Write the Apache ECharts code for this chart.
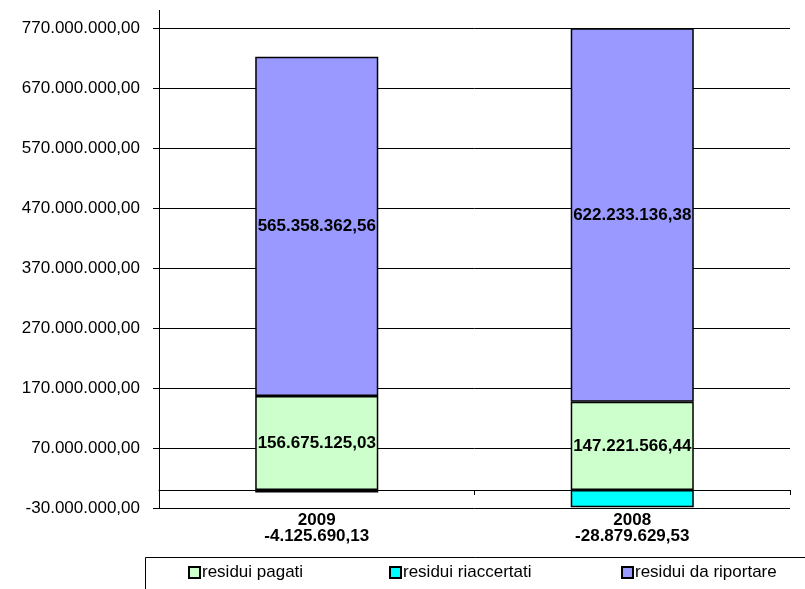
<!DOCTYPE html>
<html>
<head>
<meta charset="utf-8">
<script src="https://cdn.jsdelivr.net/npm/echarts@6/dist/echarts.min.js"></script>
<style>
  html, body { margin: 0; padding: 0; background: #fff; }
  #chart { width: 805px; height: 589px; }
</style>
</head>
<body>
<div id="chart"></div>
<script>
// data
const years = ['2009', '2008'];
const residuiPagati = [156675125.03, 147221566.44];
const residuiRiaccertati = [-4125690.13, -28879629.53];
const residuiDaRiportare = [565358362.56, 622233136.38];
const seriesNames = ['residui pagati', 'residui riaccertati', 'residui da riportare'];
const seriesColors = ['#CCFFCC', '#00FFFF', '#9999FF'];

// 1234567.5 -> "1.234.567,50"
function fmtIt(v) {
    const neg = v < 0;
    const parts = Math.abs(v).toFixed(2).split('.');
    const intPart = parts[0].replace(/\B(?=(\d{3})+(?!\d))/g, '.');
    return (neg ? '-' : '') + intPart + ',' + parts[1];
}

const categoryLabels = years.map((y, i) => y + '\n' + fmtIt(residuiRiaccertati[i]));

const font = 'Liberation Sans, Arial, sans-serif';

const chart = echarts.init(document.getElementById('chart'));

function barSeries(idx, data, showLabel) {
    return {
        name: seriesNames[idx],
        type: 'bar',
        stack: 'tot',
        barWidth: '39%',
        data: data,
        itemStyle: { color: seriesColors[idx], borderColor: '#000', borderWidth: 1.5 },
        label: {
            show: showLabel,
            position: 'inside',
            color: '#000',
            fontFamily: font,
            fontWeight: 'bold',
            fontSize: 17,
            formatter: p => fmtIt(p.value)
        },
        emphasis: { disabled: true }
    };
}

function legendItem(idx, left) {
    return {
        data: [seriesNames[idx]],
        left: left,
        top: 564,
        padding: 0,
        itemWidth: 11,
        itemHeight: 11,
        itemGap: 0,
        icon: 'rect',
        selectedMode: false,
        textStyle: { fontFamily: font, fontSize: 17, color: '#000', padding: [0, 0, 0, -3] }
    };
}

const option = {
    animation: false,
    backgroundColor: '#fff',
    grid: { left: 159, right: 15, top: 28, bottom: 81 },
    legend: [legendItem(0, 188), legendItem(1, 389), legendItem(2, 621)],
    xAxis: [
        {
            type: 'category',
            data: categoryLabels,
            position: 'bottom',
            axisLine: { show: false, onZero: false },
            axisTick: { show: false },
            axisLabel: {
                margin: 4,
                color: '#000',
                fontFamily: font,
                fontWeight: 'bold',
                fontSize: 17,
                lineHeight: 16
            }
        },
        {
            type: 'category',
            data: categoryLabels,
            position: 'bottom',
            axisLine: { show: true, onZero: true, lineStyle: { color: '#000', width: 1 } },
            axisTick: { show: true, length: 5, lineStyle: { color: '#000' } },
            axisLabel: { show: false }
        }
    ],
    yAxis: {
        type: 'value',
        min: -30000000,
        max: 770000000,
        interval: 100000000,
        axisLine: { show: true, lineStyle: { color: '#000', width: 1 } },
        axisTick: { show: true, length: 6, lineStyle: { color: '#000' } },
        splitLine: { show: true, lineStyle: { color: '#000', width: 1 } },
        axisLabel: {
            margin: 19,
            color: '#000',
            fontFamily: font,
            fontSize: 17,
            formatter: v => fmtIt(v)
        }
    },
    graphic: [
        { type: 'line', shape: { x1: 159.5, y1: 10, x2: 159.5, y2: 28 }, style: { stroke: '#000', lineWidth: 1 } },
        { type: 'rect', shape: { x: 145.5, y: 557.5, width: 700, height: 60 }, style: { fill: 'none', stroke: '#000', lineWidth: 1 }, z: -1 }
    ],
    series: [
        barSeries(0, residuiPagati, true),
        barSeries(1, residuiRiaccertati, false),
        barSeries(2, residuiDaRiportare, true)
    ]
};

chart.setOption(option);
</script>
</body>
</html>
